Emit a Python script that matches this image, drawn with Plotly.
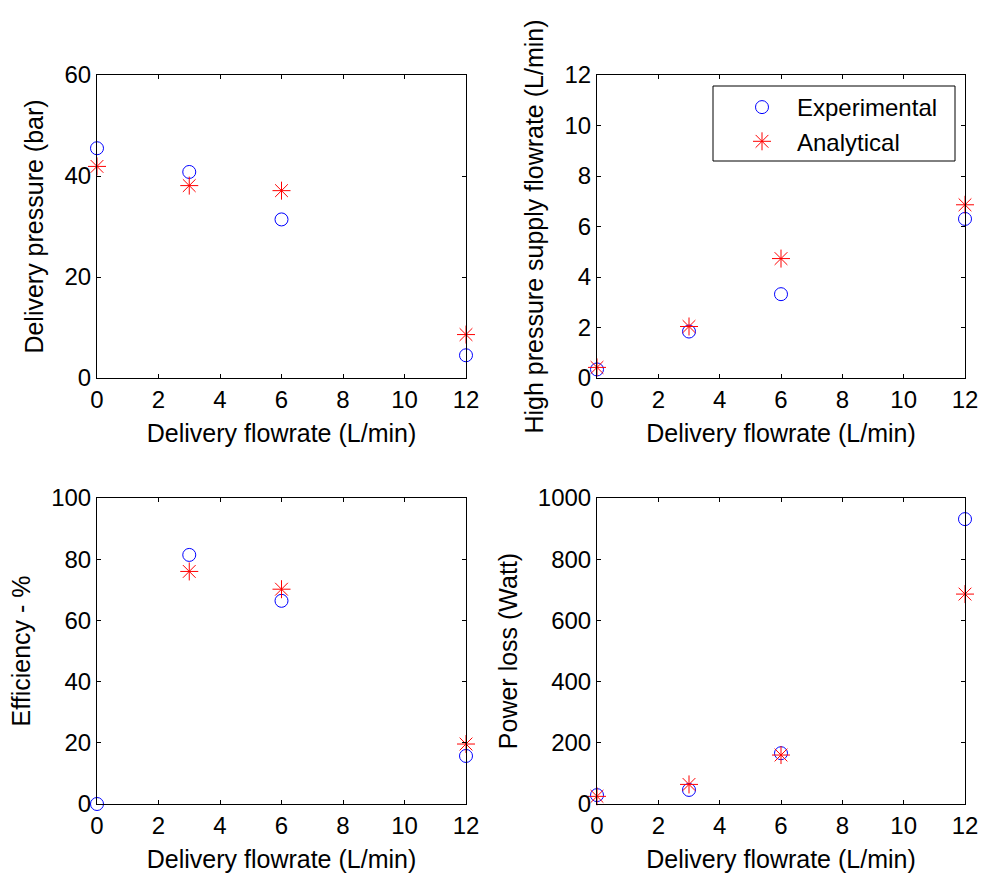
import plotly.graph_objects as go

# ---- data ----
flow = [0, 3, 6, 12]

pressure_exp = [45.5, 40.8, 31.4, 4.5]
pressure_ana = [41.9, 38.1, 37.1, 8.6]

supply_exp = [0.34, 1.84, 3.32, 6.30]
supply_ana = [0.42, 2.04, 4.73, 6.86]

eff_flow_exp = [0, 3, 6, 12]
eff_exp = [0.0, 81.4, 66.4, 15.7]
eff_flow_ana = [3, 6, 12]
eff_ana = [76.0, 70.2, 19.6]

loss_exp = [29, 46, 166, 931]
loss_ana = [25, 64, 160, 686]

xtick_vals = [0, 2, 4, 6, 8, 10, 12]
x_title = "Delivery flowrate (L/min)"
y_titles = ["Delivery pressure (bar)", "High pressure supply flowrate (L/min)",
            "Efficiency - %", "Power loss (Watt)"]
y_ranges = [[0, 60], [0, 12], [0, 100], [0, 1000]]
y_dticks = [20, 2, 20, 200]

FONT = "Liberation Sans, Arial, sans-serif"
W, H = 982, 874
TICK_SIZE = 24
TITLE_SIZE = 25

fig = go.Figure()

circ = dict(symbol="circle-open", size=13, color="blue", line=dict(width=1, color="blue"))
star = dict(symbol="asterisk-open", size=15, color="red", line=dict(width=1, color="red"))

panels = [
    (flow, pressure_exp, flow, pressure_ana),
    (flow, supply_exp, flow, supply_ana),
    (eff_flow_exp, eff_exp, eff_flow_ana, eff_ana),
    (flow, loss_exp, flow, loss_ana),
]

for i, (xe, ye, xa, ya) in enumerate(panels):
    ax = "" if i == 0 else str(i + 1)
    show = (i == 1)
    fig.add_trace(go.Scatter(x=xe, y=ye, mode="markers", marker=circ, name="Experimental",
                             xaxis="x" + ax, yaxis="y" + ax, showlegend=show,
                             legendgroup="exp", cliponaxis=False, hoverinfo="skip"))
    fig.add_trace(go.Scatter(x=xa, y=ya, mode="markers", marker=star, name="Analytical",
                             xaxis="x" + ax, yaxis="y" + ax, showlegend=show,
                             legendgroup="ana", cliponaxis=False, hoverinfo="skip"))

# axis pixel boxes (left, right, top, bottom)
boxes = [(97, 466, 75, 378), (597, 965, 75, 378), (97, 466, 498, 804), (597, 965, 498, 804)]

layout = dict(
    width=W, height=H, margin=dict(l=0, r=0, t=0, b=0),
    paper_bgcolor="white", plot_bgcolor="white",
    font=dict(family=FONT, size=TICK_SIZE, color="black"),
    hovermode=False,
    legend=dict(x=727 / W, y=1 - 85 / H, xanchor="left", yanchor="top",
                bgcolor="rgba(0,0,0,0)", borderwidth=0,
                font=dict(family=FONT, size=TITLE_SIZE - 1, color="black"),
                traceorder="grouped", tracegroupgap=0, itemwidth=60),
    showlegend=True,
)

for i, (l, r, t, b) in enumerate(boxes):
    key = "" if i == 0 else str(i + 1)
    layout["xaxis" + key] = dict(
        domain=[l / W, r / W], anchor="y" + key, range=[0, 12],
        tickvals=xtick_vals, ticks="inside", ticklen=4, tickcolor="black",
        showline=True, linecolor="black", linewidth=1, mirror="ticks",
        showgrid=False, zeroline=False, fixedrange=True,
        tickfont=dict(family=FONT, size=TICK_SIZE, color="black"),
        title=dict(text=x_title, font=dict(family=FONT, size=TITLE_SIZE, color="black"), standoff=12),
        automargin=False,
    )
    layout["yaxis" + key] = dict(
        domain=[1 - b / H, 1 - t / H], anchor="x" + key, range=y_ranges[i],
        dtick=y_dticks[i], ticks="inside", ticklen=4, tickcolor="black",
        showline=True, linecolor="black", linewidth=1, mirror="ticks",
        showgrid=False, zeroline=False, fixedrange=True,
        tickfont=dict(family=FONT, size=TICK_SIZE, color="black"),
        title=dict(text=y_titles[i], font=dict(family=FONT, size=TITLE_SIZE, color="black"), standoff=13),
        automargin=False,
    )

fig.update_layout(**layout)

# legend frame
fig.add_shape(type="rect", xref="paper", yref="paper",
              x0=713 / W, x1=955 / W, y0=1 - 161 / H, y1=1 - 86 / H,
              line=dict(color="black", width=1), fillcolor="rgba(0,0,0,0)", layer="above")

fig.write_html("out.html", config={"displayModeBar": False, "staticPlot": True},
               post_script="document.body.style.margin='0';document.body.style.overflow='hidden';")
